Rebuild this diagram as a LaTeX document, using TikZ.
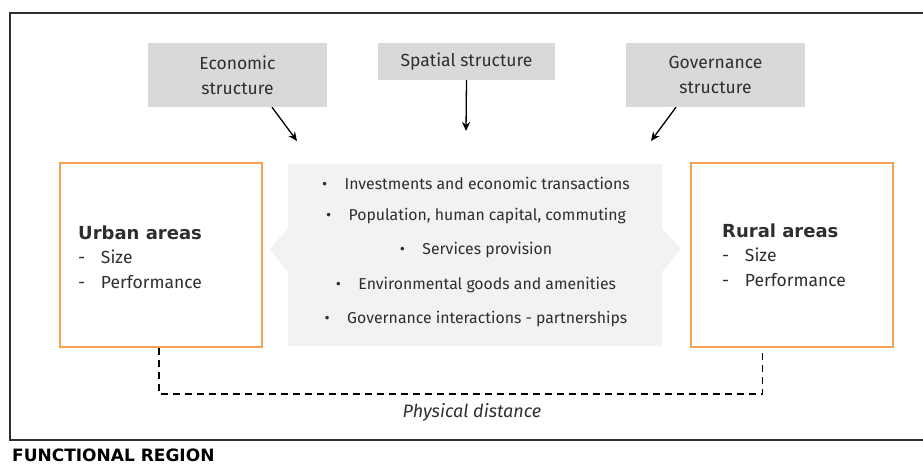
\documentclass[tikz,border=0pt]{standalone}
\usepackage{fontspec}
\setmainfont{Fira Sans}
\newfontfamily\heavyfont{DejaVu Sans}
\usetikzlibrary{arrows.meta,calc}
\definecolor{txt}{HTML}{2E2E2E}
\definecolor{topgray}{HTML}{D9D9D9}
\definecolor{midgray}{HTML}{F2F2F2}
\definecolor{orng}{HTML}{F5A150}
\begin{document}
\begin{tikzpicture}[x=1pt,y=-1pt,
  topbox/.style={fill=topgray,draw=none,minimum width=179pt,align=center,text=txt,font=\fontsize{17.5}{25}\selectfont,inner sep=0pt},
  areabox/.style={draw=orng,line width=1.6pt,minimum width=202pt,minimum height=184pt,inner sep=0pt},
  areatext/.style={anchor=west,align=left,text=txt,font=\fontsize{17.5}{24.5}\selectfont,inner sep=0pt},
  headfont/.style={font=\heavyfont\bfseries\fontsize{17}{20}\selectfont},
  bullet/.style={text=txt,font=\fontsize{15.8}{18}\selectfont,inner sep=0pt},
  arr/.style={-{Stealth[length=9pt,width=8pt]},line width=1.3pt,black},
  conn/.style={dashed,dash pattern=on 7pt off 5pt,line width=1.6pt,black}
]
\useasboundingbox (0,0) rectangle (923,466);
\begin{scope}
\clip (0,0) rectangle (923,466);
\draw[line width=1.6pt,color=txt] (10,13) rectangle (940,440);
\end{scope}

\node[topbox,minimum height=64pt] (eco) at (237.5,75) {Economic\\structure};
\node[topbox,minimum width=177pt,minimum height=37pt] (spa) at (466.5,61.5) {Spatial structure};
\node[topbox,minimum height=64pt] (gov) at (715.5,75) {Governance\\structure};

\fill[midgray] (288,164) -- (662,164) -- (662,228) -- (681,249) -- (662,272) -- (662,346)
  -- (288,346) -- (288,272) -- (270,249) -- (288,228) -- cycle;

\node[bullet] (b1) at (476,183) {•\hspace{1.1em}Investments and economic transactions};
\node[bullet] (b2) at (476,216) {•\hspace{1.1em}Population, human capital, commuting};
\node[bullet] (b3) at (476,250) {•\hspace{1.1em}Services provision};
\node[bullet] (b4) at (476,285) {•\hspace{1.1em}Environmental goods and amenities};
\node[bullet] (b5) at (476,319) {•\hspace{1.1em}Governance interactions - partnerships};

\node[areabox] (urban) at (161,255) {};
\node[areabox] (rural) at (792,255) {};
\node[areatext] (utext) at (78,257) {{\heavyfont\bfseries\fontsize{18}{20}\selectfont Urban areas}\\-\hspace{0.9em}Size\\-\hspace{0.9em}Performance};
\node[areatext] (rtext) at (722,255) {{\heavyfont\bfseries\fontsize{18}{20}\selectfont Rural areas}\\-\hspace{0.9em}Size\\-\hspace{0.9em}Performance};

\coordinate (ecoend) at (297,141);
\coordinate (spaend) at (466,131);
\coordinate (govend) at (651,141);
\draw[arr] ($(eco.south)+(34.5,0)$) -- (ecoend);
\draw[arr] (spa.south) -- (spaend);
\draw[arr] ($(gov.south)+(-39.5,0)$) -- (govend);

\coordinate (ud) at ($(urban.south west)!0.49!(urban.south east)$);
\coordinate (rd) at ($(rural.south west)!0.356!(rural.south east)$);
\draw[conn] (ud) -- ++(0,46) -| (rd);

\node[text=txt,font=\fontsize{18}{20}\selectfont\itshape,inner sep=0pt] (dist) at (472,412) {Physical distance};
\node[anchor=west,text=black,headfont,inner sep=0pt] (fr) at (12,455.5) {FUNCTIONAL REGION};
\end{tikzpicture}
\end{document}
